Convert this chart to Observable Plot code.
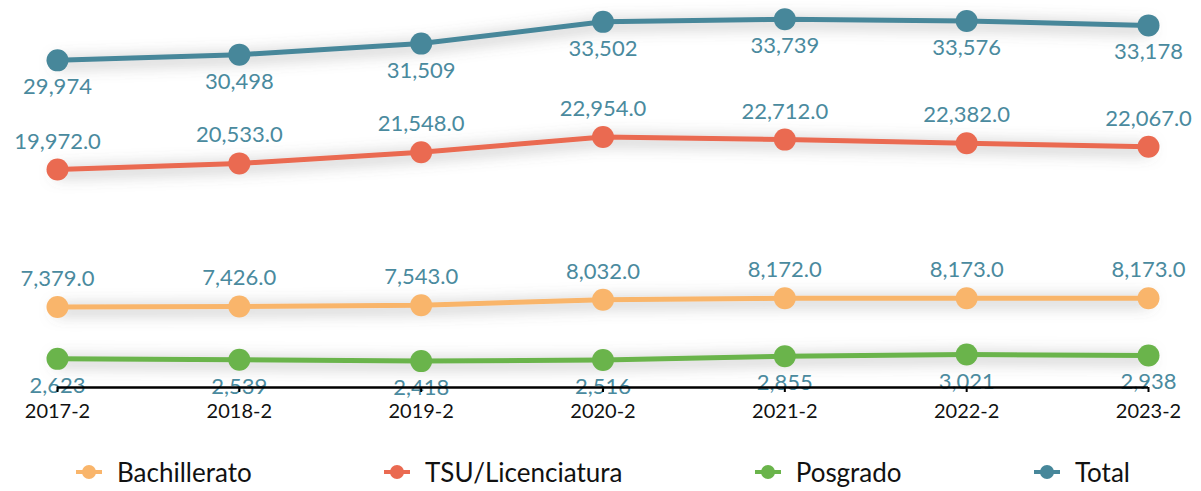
<!DOCTYPE html>
<html>
<head>
<meta charset="utf-8">
<script src="https://cdn.jsdelivr.net/npm/d3@7"></script>
<script src="https://cdn.jsdelivr.net/npm/@observablehq/plot@0.6"></script>
<style>
  html, body { margin: 0; padding: 0; background: #fff; }
  body { width: 1201px; height: 491px; overflow: hidden; font-family: Lato, "Open Sans", sans-serif; }
  #legend { display: flex; justify-content: space-between; align-items: center; height: 51px; padding: 0 71px 0 76px; box-sizing: border-box; font-size: 26px; color: #111; margin-top: 6px; }
  .item { display: flex; align-items: center; }
  .item svg { margin-right: 15px; }
</style>
</head>
<body>
<div id="chart"></div>
<div id="legend"></div>
<script>
const categories = ["2017-2", "2018-2", "2019-2", "2020-2", "2021-2", "2022-2", "2023-2"];
const seriesNames = ["Bachillerato", "TSU/Licenciatura", "Posgrado", "Total"];
const bachillerato = [7379, 7426, 7543, 8032, 8172, 8173, 8173];
const tsuLicenciatura = [19972, 20533, 21548, 22954, 22712, 22382, 22067];
const posgrado = [2623, 2539, 2418, 2516, 2855, 3021, 2938];
const total = [29974, 30498, 31509, 33502, 33739, 33576, 33178];
const seriesColors = ["#f9b56b", "#ea6a51", "#6ab44b", "#47879a"];
const labelFormats = [",.1f", ",.1f", ",d", ",d"];
const labelAbove = [true, true, false, false];

const seriesValues = [bachillerato, tsuLicenciatura, posgrado, total];
const rows = [];
seriesNames.forEach((s, i) => {
  categories.forEach((c, j) => {
    rows.push({series: s, cat: c, value: seriesValues[i][j], label: d3.format(labelFormats[i])(seriesValues[i][j]), above: labelAbove[i]});
  });
});

const colorScale = {domain: seriesNames, range: seriesColors};

const plot = Plot.plot({
  width: 1201,
  height: 440,
  marginLeft: 57,
  marginRight: 53,
  marginTop: 5,
  marginBottom: 53,
  style: {fontFamily: "Lato, 'Open Sans', sans-serif", background: "#fff"},
  x: {type: "point", domain: categories, padding: 0, round: false, label: null},
  y: {domain: [0, 35000], axis: null},
  color: colorScale,
  marks: [
    Plot.line(rows, {x: "cat", y: "value", z: "series", stroke: "series", strokeWidth: 5}),
    Plot.dot(rows, {x: "cat", y: "value", fill: "series", r: 11}),
    Plot.text(rows.filter(d => d.above), {x: "cat", y: "value", text: "label", dy: -28, fill: "#4a8a9e", fontSize: 22}),
    Plot.text(rows.filter(d => !d.above), {x: "cat", y: "value", text: "label", dy: 27, fill: "#4a8a9e", fontSize: 22}),
    Plot.ruleY([0], {stroke: "#000", strokeWidth: 2.5}),
    Plot.axisX({tickSize: 5, tickPadding: 11, fontSize: 20, stroke: "#000", strokeWidth: 2, color: "#111", label: null})
  ]
});

// soft drop shadow on the series lines
const svg = d3.select(plot);
const defs = svg.insert("defs", ":first-child");
const f = defs.append("filter").attr("id", "shadow").attr("x", "-10%").attr("y", "-100%").attr("width", "120%").attr("height", "300%");
f.append("feDropShadow").attr("dx", 0).attr("dy", 3).attr("stdDeviation", 8).attr("flood-color", "#666").attr("flood-opacity", 0.7);
svg.selectAll("g[aria-label='line']").attr("filter", "url(#shadow)");

document.getElementById("chart").appendChild(plot);

const legend = d3.select("#legend");
seriesNames.forEach((s, i) => {
  const item = legend.append("div").attr("class", "item");
  const m = item.append("svg").attr("width", 26).attr("height", 16);
  m.append("line").attr("x1", 0).attr("x2", 26).attr("y1", 8).attr("y2", 8).attr("stroke", seriesColors[i]).attr("stroke-width", 4);
  m.append("circle").attr("cx", 13).attr("cy", 8).attr("r", 7).attr("fill", seriesColors[i]);
  item.append("span").text(s);
});
</script>
</body>
</html>
